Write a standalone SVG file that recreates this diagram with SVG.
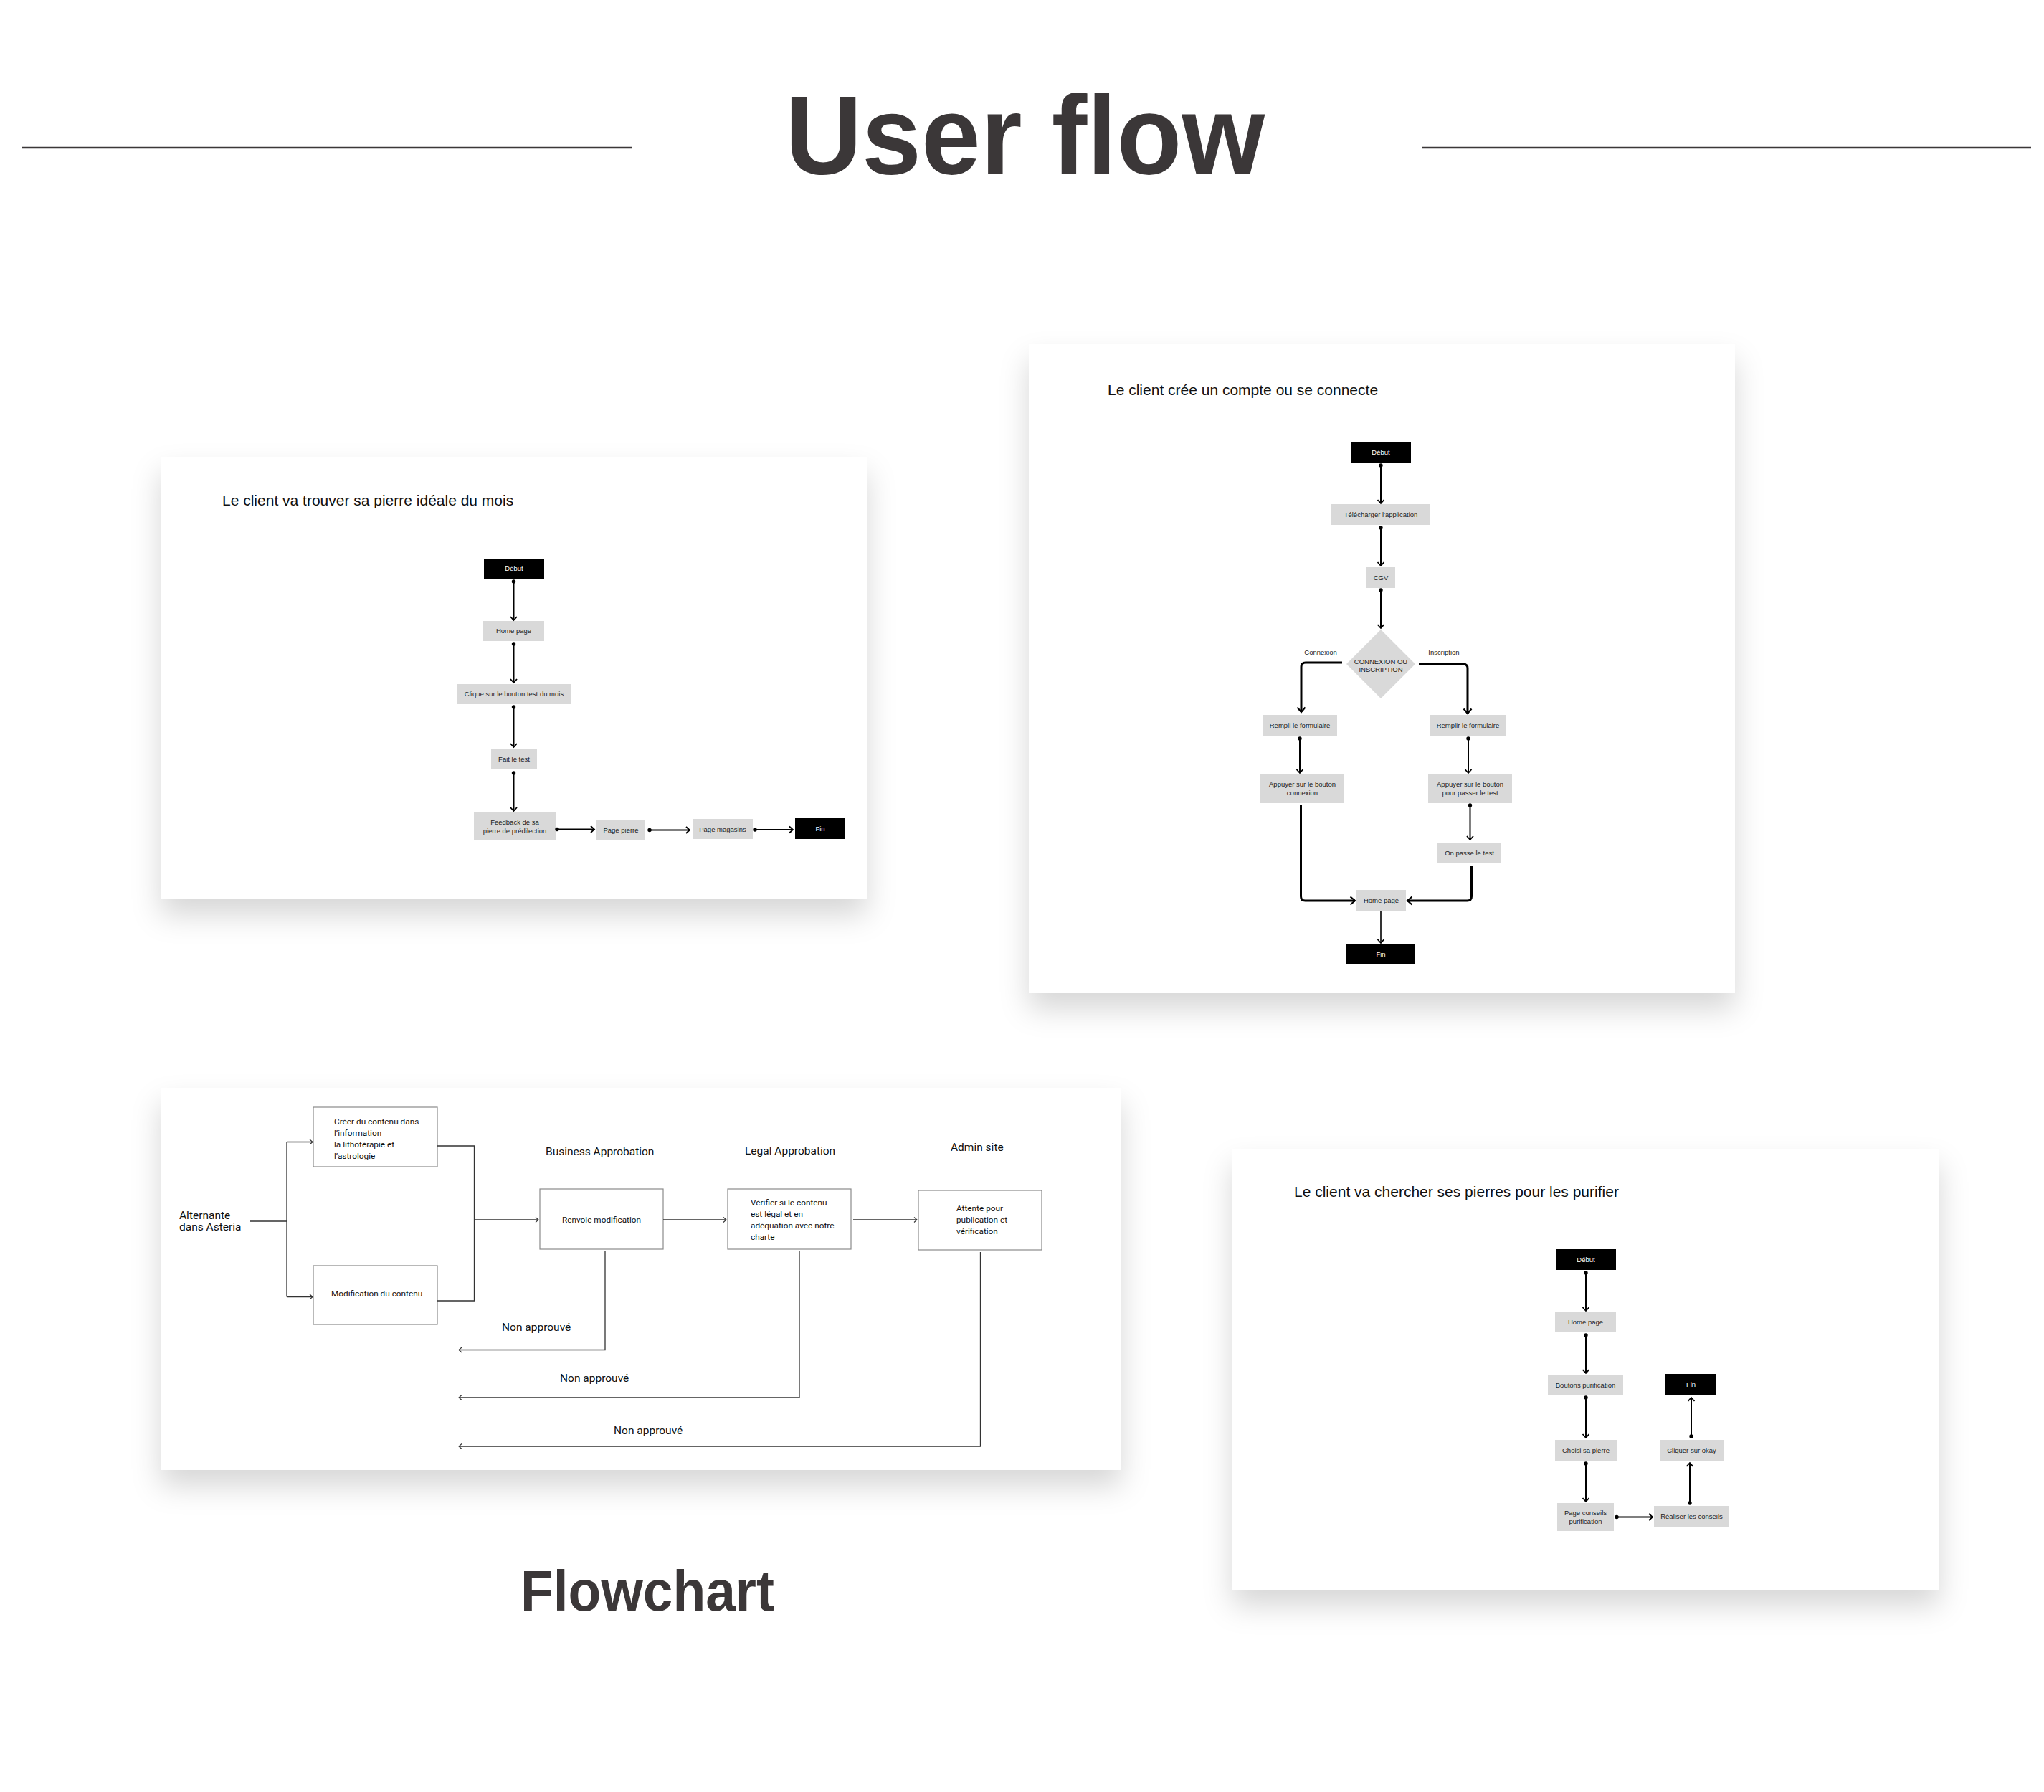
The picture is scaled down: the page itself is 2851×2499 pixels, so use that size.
<svg xmlns="http://www.w3.org/2000/svg" width="2851" height="2499" viewBox="0 0 2851 2499">
<style>
.bg{fill:#fff}
.panel{fill:#fff;filter:url(#sh)}
.n{fill:#d9d9d9}
.k{fill:#000}
.t{font-family:"Liberation Sans",Arial,sans-serif;font-size:9.5px;fill:#222;text-anchor:middle}
.tw{font-family:"Liberation Sans",Arial,sans-serif;font-size:9.5px;fill:#fff;text-anchor:middle}
.ptitle{font-family:"Liberation Sans",Arial,sans-serif;font-size:21px;fill:#111}
.c{fill:none;stroke:#000;stroke-width:2;marker-start:url(#dot);marker-end:url(#chev)}
.cb{fill:none;stroke:#000;stroke-width:3;marker-end:url(#chevb)}
.cn{fill:none;stroke:#000;stroke-width:1.6;marker-end:url(#chev)}
.fb{fill:#fff;stroke:#8a8a8a;stroke-width:1.2}
.fl{fill:none;stroke:#333;stroke-width:1.3}
.fa{fill:none;stroke:#333;stroke-width:1.3;marker-end:url(#thin)}
.fr{font-family:Roboto,"Liberation Sans",sans-serif;font-size:15.5px;fill:#111}
.fs{font-family:Roboto,"Liberation Sans",sans-serif;font-size:11.8px;fill:#111}
.big{font-family:"Liberation Sans",Arial,sans-serif;font-weight:bold;fill:#3b3738}
</style>
<defs>
<filter id="sh" x="-10%" y="-10%" width="120%" height="135%">
<feDropShadow dx="0" dy="22" stdDeviation="20" flood-color="#000" flood-opacity="0.16"/>
</filter>
<marker id="dot" markerUnits="userSpaceOnUse" markerWidth="8" markerHeight="8" viewBox="-4 -4 8 8" refX="0" refY="0">
<circle r="2.7" fill="#000"/>
</marker>
<marker id="chev" markerUnits="userSpaceOnUse" markerWidth="14" markerHeight="14" viewBox="-7 -7 14 14" refX="0" refY="0" orient="auto">
<path d="M-5,-4.5 L0,0 L-5,4.5" fill="none" stroke="#000" stroke-width="1.8"/>
</marker>
<marker id="chevb" markerUnits="userSpaceOnUse" markerWidth="16" markerHeight="16" viewBox="-8 -8 16 16" refX="0" refY="0" orient="auto">
<path d="M-6.5,-5.5 L0,0 L-6.5,5.5" fill="none" stroke="#000" stroke-width="2.2"/>
</marker>
<marker id="thin" markerUnits="userSpaceOnUse" markerWidth="10" markerHeight="10" viewBox="-5 -5 10 10" refX="0" refY="0" orient="auto">
<path d="M-4,-3.5 L0,0 L-4,3.5" fill="none" stroke="#333" stroke-width="1.1"/>
</marker>
</defs>
<rect class="bg" x="0" y="0" width="2851" height="2499"/>

<g id="header">
<line x1="31" y1="206" x2="882" y2="206" stroke="#3b3738" stroke-width="2.5"/>
<line x1="1984" y1="206" x2="2833" y2="206" stroke="#3b3738" stroke-width="2.5"/>
<text class="big" x="1095" y="242" font-size="155" textLength="669" lengthAdjust="spacingAndGlyphs">User flow</text>
<text class="big" x="726" y="2246" font-size="80" textLength="354" lengthAdjust="spacingAndGlyphs">Flowchart</text>
</g>

<g id="panels">
<rect class="panel" x="224" y="637" width="985" height="617"/>
<rect class="panel" x="1435" y="480" width="985" height="905"/>
<rect class="panel" x="224" y="1517" width="1340" height="533"/>
<rect class="panel" x="1719" y="1603" width="986" height="614"/>
</g>

<!-- Panel 1 -->
<g id="p1">
<text class="ptitle" x="310" y="705">Le client va trouver sa pierre idéale du mois</text>
<g id="p1-debut"><rect class="k" x="675" y="779" width="84" height="28"/><text class="tw" x="717" y="796">Début</text></g>
<g id="p1-home"><rect class="n" x="674" y="866" width="85" height="28"/><text class="t" x="716.5" y="883">Home page</text></g>
<g id="p1-clique"><rect class="n" x="637" y="954" width="160" height="28"/><text class="t" x="717" y="971">Clique sur le bouton test du mois</text></g>
<g id="p1-fait"><rect class="n" x="685" y="1045" width="64" height="28"/><text class="t" x="717" y="1062">Fait le test</text></g>
<g id="p1-feedback"><rect class="n" x="661" y="1133" width="114" height="39"/><text class="t" x="718" y="1150">Feedback de sa</text><text class="t" x="718" y="1162">pierre de prédilection</text></g>
<g id="p1-pierre"><rect class="n" x="832" y="1143" width="68" height="28"/><text class="t" x="866" y="1160.5">Page pierre</text></g>
<g id="p1-magasins"><rect class="n" x="966" y="1142" width="84" height="28"/><text class="t" x="1008" y="1159.5">Page magasins</text></g>
<g id="p1-fin"><rect class="k" x="1109" y="1141" width="70" height="29"/><text class="tw" x="1144" y="1159">Fin</text></g>
</g>

<!-- Panel 2 -->
<g id="p2">
<text class="ptitle" x="1545" y="551">Le client crée un compte ou se connecte</text>
<g id="p2-debut"><rect class="k" x="1884" y="616" width="84" height="29"/><text class="tw" x="1926" y="634">Début</text></g>
<g id="p2-telecharger"><rect class="n" x="1857" y="703" width="138" height="29"/><text class="t" x="1926" y="721">Télécharger l'application</text></g>
<g id="p2-cgv"><rect class="n" x="1906" y="791" width="40" height="29"/><text class="t" x="1926" y="809">CGV</text></g>
<g id="p2-choix"><path class="n" d="M1926,878 L1974,926 L1926,974 L1878,926 Z"/><text class="t" x="1926" y="926" font-size="9">CONNEXION OU</text><text class="t" x="1926" y="937" font-size="9">INSCRIPTION</text></g>
<g id="p2-rempli"><rect class="n" x="1761" y="997" width="104" height="29"/><text class="t" x="1813" y="1015">Rempli le formulaire</text></g>
<g id="p2-remplir"><rect class="n" x="1994" y="997" width="107" height="29"/><text class="t" x="2047.5" y="1015">Remplir le formulaire</text></g>
<g id="p2-appuyer1"><rect class="n" x="1758" y="1080" width="117" height="40"/><text class="t" x="1816.5" y="1097">Appuyer sur le bouton</text><text class="t" x="1816.5" y="1109">connexion</text></g>
<g id="p2-appuyer2"><rect class="n" x="1992" y="1080" width="117" height="40"/><text class="t" x="2050.5" y="1097">Appuyer sur le bouton</text><text class="t" x="2050.5" y="1109">pour passer le test</text></g>
<g id="p2-test"><rect class="n" x="2005" y="1175" width="89" height="29"/><text class="t" x="2049.5" y="1193">On passe le test</text></g>
<g id="p2-home"><rect class="n" x="1892" y="1241" width="69" height="29"/><text class="t" x="1926.5" y="1259">Home page</text></g>
<g id="p2-fin"><rect class="k" x="1878" y="1316" width="96" height="29"/><text class="tw" x="1926" y="1334">Fin</text></g>
<text class="t" x="1842" y="913" font-size="9">Connexion</text>
<text class="t" x="2014" y="913" font-size="9">Inscription</text>
</g>

<!-- Panel 4 -->
<g id="p4">
<text class="ptitle" x="1805" y="1669">Le client va chercher ses pierres pour les purifier</text>
<g id="p4-debut"><rect class="k" x="2170" y="1742" width="84" height="29"/><text class="tw" x="2212" y="1760">Début</text></g>
<g id="p4-home"><rect class="n" x="2169" y="1829" width="85" height="28"/><text class="t" x="2211.5" y="1846.5">Home page</text></g>
<g id="p4-boutons"><rect class="n" x="2159" y="1917" width="105" height="28"/><text class="t" x="2211.5" y="1934.5">Boutons purification</text></g>
<g id="p4-choisi"><rect class="n" x="2169" y="2008" width="86" height="29"/><text class="t" x="2212" y="2026">Choisi sa pierre</text></g>
<g id="p4-conseils"><rect class="n" x="2172" y="2096" width="79" height="39"/><text class="t" x="2211.5" y="2113">Page conseils</text><text class="t" x="2211.5" y="2125">purification</text></g>
<g id="p4-realiser"><rect class="n" x="2307" y="2100" width="105" height="29"/><text class="t" x="2359.5" y="2118">Réaliser les conseils</text></g>
<g id="p4-okay"><rect class="n" x="2315" y="2008" width="89" height="29"/><text class="t" x="2359.5" y="2026">Cliquer sur okay</text></g>
<g id="p4-fin"><rect class="k" x="2323" y="1916" width="71" height="29"/><text class="tw" x="2358.5" y="1934">Fin</text></g>
</g>

<!-- Panel 3: flowchart -->
<g id="p3">
<g id="p3-alternante"><text class="fr" x="250" y="1700">Alternante</text><text class="fr" x="250" y="1716">dans Asteria</text></g>
<g id="p3-creer"><rect class="fb" x="437" y="1544" width="173" height="83"/>
<text class="fs" x="466" y="1568">Créer du contenu dans</text>
<text class="fs" x="466" y="1584">l’information</text>
<text class="fs" x="466" y="1600">la lithotérapie et</text>
<text class="fs" x="466" y="1616">l’astrologie</text></g>
<g id="p3-modif"><rect class="fb" x="437" y="1765" width="173" height="82"/><text class="fs" x="462" y="1808">Modification du contenu</text></g>
<g id="p3-renvoie"><rect class="fb" x="753" y="1658" width="172" height="84"/><text class="fs" x="839" y="1705" text-anchor="middle">Renvoie modification</text></g>
<g id="p3-legal"><rect class="fb" x="1015" y="1658" width="172" height="84"/>
<text class="fs" x="1047" y="1681">Vérifier si le contenu</text>
<text class="fs" x="1047" y="1697">est légal et en</text>
<text class="fs" x="1047" y="1713">adéquation avec notre</text>
<text class="fs" x="1047" y="1729">charte</text></g>
<g id="p3-admin"><rect class="fb" x="1281" y="1660" width="172" height="83"/>
<text class="fs" x="1334" y="1689">Attente pour</text>
<text class="fs" x="1334" y="1705">publication et</text>
<text class="fs" x="1334" y="1721">vérification</text></g>
<text class="fr" x="761" y="1611" font-size="15">Business Approbation</text>
<text class="fr" x="1039" y="1610" font-size="15">Legal Approbation</text>
<text class="fr" x="1326" y="1605" font-size="15">Admin site</text>
<text class="fr" x="700" y="1856">Non approuvé</text>
<text class="fr" x="781" y="1927">Non approuvé</text>
<text class="fr" x="856" y="2000">Non approuvé</text>
</g>

<g id="connectors">
<!-- panel 1 -->
<line class="c" x1="716.5" y1="811" x2="716.5" y2="865"/>
<line class="c" x1="716.5" y1="898" x2="716.5" y2="952"/>
<line class="c" x1="716.5" y1="986" x2="716.5" y2="1042"/>
<line class="c" x1="716.5" y1="1078" x2="716.5" y2="1131"/>
<line class="c" x1="777" y1="1156.5" x2="829" y2="1156.5"/>
<line class="c" x1="906" y1="1157.5" x2="962" y2="1157.5"/>
<line class="c" x1="1053" y1="1157" x2="1106" y2="1157"/>
<!-- panel 2 -->
<line class="c" x1="1926" y1="649" x2="1926" y2="702"/>
<line class="c" x1="1926" y1="736" x2="1926" y2="789"/>
<line class="c" x1="1926" y1="823" x2="1926" y2="876"/>
<path class="cb" d="M1872,924 H1821 Q1815,924 1815,930 V993"/>
<path class="cb" d="M1979,926 H2041 Q2047,926 2047,932 V995"/>
<line class="c" x1="1813" y1="1030" x2="1813" y2="1078"/>
<line class="c" x1="2048" y1="1030" x2="2048" y2="1078"/>
<line class="c" x1="2050.5" y1="1123" x2="2050.5" y2="1171"/>
<path class="cb" d="M1814.5,1123 V1250 Q1814.5,1256 1820.5,1256 H1890"/>
<path class="cb" d="M2052.5,1208 V1250 Q2052.5,1256 2046.5,1256 H1963"/>
<line class="cn" x1="1926" y1="1271" x2="1926" y2="1315"/>
<!-- panel 4 -->
<line class="c" x1="2212" y1="1775" x2="2212" y2="1828"/>
<line class="c" x1="2212" y1="1862" x2="2212" y2="1915"/>
<line class="c" x1="2212" y1="1949" x2="2212" y2="2005"/>
<line class="c" x1="2212" y1="2041" x2="2212" y2="2094"/>
<line class="c" x1="2255" y1="2115.5" x2="2305" y2="2115.5"/>
<line class="c" x1="2357" y1="2096" x2="2357" y2="2040"/>
<line class="c" x1="2359" y1="2003" x2="2359" y2="1949"/>
<!-- panel 3 -->
<path class="fl" d="M349,1703 H400 M400,1592.5 V1808.5"/>
<line class="fa" x1="400" y1="1592.5" x2="436" y2="1592.5"/>
<line class="fa" x1="400" y1="1808.5" x2="436" y2="1808.5"/>
<path class="fl" d="M610,1598 H661.5 V1814 H610"/>
<line class="fa" x1="661.5" y1="1701" x2="751" y2="1701"/>
<line class="fa" x1="925" y1="1701" x2="1013" y2="1701"/>
<line class="fa" x1="1190" y1="1701" x2="1279" y2="1701"/>
<path class="fa" d="M844,1744 V1882.5 H640"/>
<path class="fa" d="M1115,1745 V1949 H640"/>
<path class="fa" d="M1367.5,1746 V2017 H640"/>
</g>
</svg>
